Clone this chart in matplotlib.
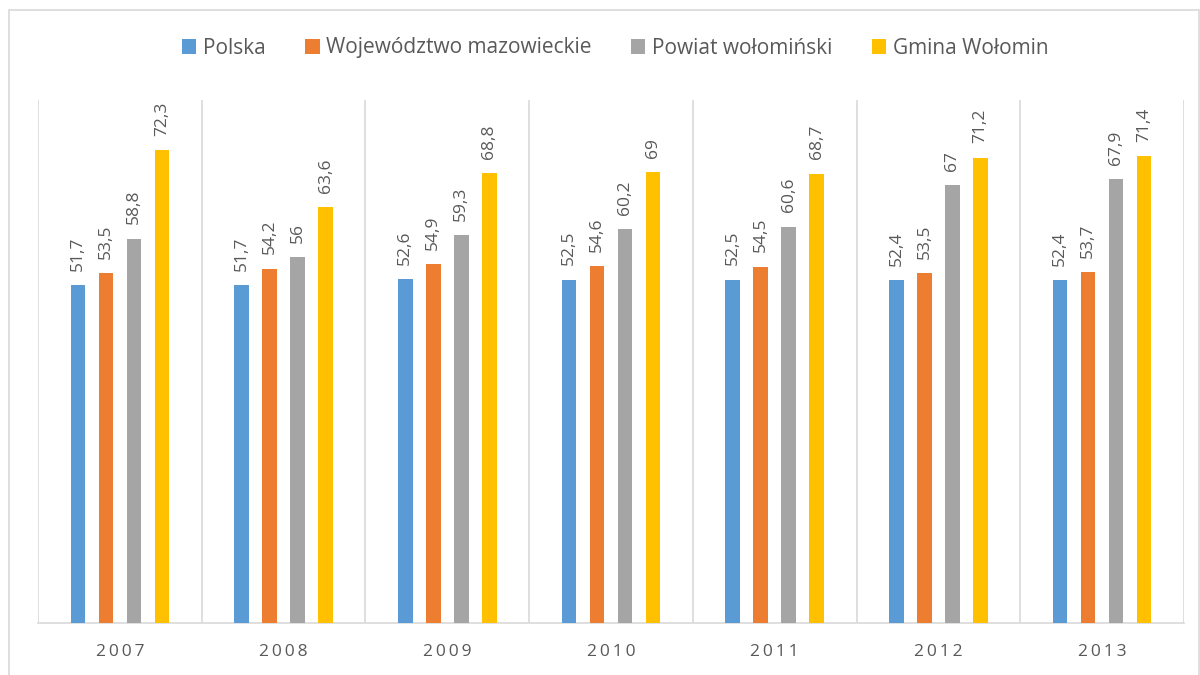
import matplotlib
matplotlib.use("Agg")
import matplotlib.pyplot as plt
from matplotlib.patches import Rectangle
import numpy as np

plt.rcParams['font.family'] = ['Open Sans', 'DejaVu Sans']

years = ["2007", "2008", "2009", "2010", "2011", "2012", "2013"]
series_names = ["Polska", "Województwo mazowieckie", "Powiat wołomiński", "Gmina Wołomin"]
polska = [51.7, 51.7, 52.6, 52.5, 52.5, 52.4, 52.4]
mazowieckie = [53.5, 54.2, 54.9, 54.6, 54.5, 53.5, 53.7]
wolominski = [58.8, 56.0, 59.3, 60.2, 60.6, 67.0, 67.9]
wolomin = [72.3, 63.6, 68.8, 69.0, 68.7, 71.2, 71.4]
colors = ["#5B9BD5", "#ED7D31", "#A5A5A5", "#FFC000"]

def fmt(v):
    s = f"{v:.1f}"
    if s.endswith(".0"):
        s = s[:-2]
    return s.replace(".", ",")

fig = plt.figure(figsize=(12, 6.75), dpi=100)
fig.patches.append(Rectangle((9/1200, -0.01), (1199-9)/1200, 1 - 10/675 + 0.01,
                             transform=fig.transFigure, fill=False,
                             edgecolor="#d9d9d9", linewidth=1.2))
ax = fig.add_axes([38/1200, 52/675, (1184-38)/1200, (623-100)/675])

x = np.arange(len(years))
width = 0.089
step = 0.171
all_series = [polska, mazowieckie, wolominski, wolomin]
for i, (name, vals, c) in enumerate(zip(series_names, all_series, colors)):
    off = (i - 1.5) * step
    ax.bar(x + off, vals, width=width, color=c, label=name, zorder=3)
    for xi, v in zip(x, vals):
        ax.text(xi + off, v + 2.2, fmt(v), rotation=90, ha="center", va="bottom",
                fontsize=12.5, color="#595959")

ax.set_xlim(-0.5, len(years) - 0.5)
ax.set_ylim(0, 80)
ax.set_yticks([])
ax.set_xticks(x)
ax.set_xticklabels(["\u2009".join(y) for y in years], fontsize=12.5, color="#595959")
ax.tick_params(axis="x", length=0, pad=15)
ax.set_xticks(np.arange(-0.5, len(years)), minor=True)
ax.tick_params(axis="x", which="minor", length=0)
ax.grid(axis="x", which="minor", color="#d9d9d9", linewidth=1.2, zorder=0)
for s in ["top", "right", "left"]:
    ax.spines[s].set_visible(False)
ax.spines["bottom"].set_color("#d9d9d9")
ax.spines["bottom"].set_linewidth(1.2)

leg = fig.legend(loc="center", bbox_to_anchor=(615/1200, 1 - 48/675), ncol=4,
                 frameon=False, fontsize=15, handlelength=0.7, handleheight=0.7,
                 handletextpad=0.3, columnspacing=1.9, labelcolor="#595959")

fig.savefig("out.png", dpi=100)
